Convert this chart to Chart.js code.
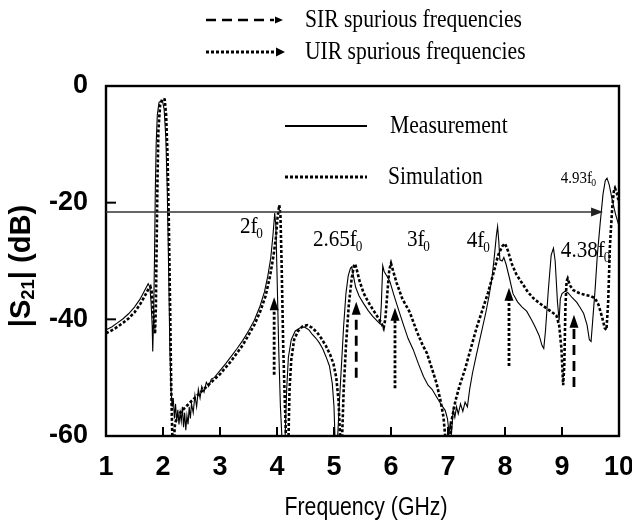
<!DOCTYPE html>
<html><head><meta charset="utf-8">
<style>html,body{margin:0;padding:0;background:#fff;}canvas{display:block;}</style>
<script src="https://cdn.jsdelivr.net/npm/chart.js@4"></script>
</head><body>
<canvas id="c" width="632" height="527"></canvas>
<script>
// ---- data ----
const xTicks = [1, 2, 3, 4, 5, 6, 7, 8, 9, 10];
const yTicks = [0, -20, -40, -60];

const measFreq = [1.00,1.10,1.20,1.30,1.40,1.50,1.60,1.68,1.74,1.77,1.79,1.81,1.82,1.835,1.85,1.865,1.88,1.90,1.93,1.96,1.99,2.02,2.05,2.075,2.10,2.12,2.14,2.16,2.18,2.20,2.22,2.24,2.26,2.28,2.30,2.32,2.34,2.36,2.38,2.40,2.42,2.44,2.46,2.48,2.50,2.53,2.56,2.59,2.62,2.65,2.68,2.72,2.76,2.80,2.85,2.90,3.00,3.10,3.20,3.30,3.40,3.50,3.60,3.70,3.78,3.84,3.89,3.93,3.96,3.98,4.00,4.03,4.06,4.09,4.14,4.17,4.20,4.25,4.32,4.40,4.48,4.56,4.62,4.68,4.74,4.80,4.86,4.92,4.97,5.00,5.02,5.06,5.09,5.13,5.17,5.21,5.25,5.29,5.31,5.34,5.38,5.44,5.52,5.60,5.68,5.76,5.81,5.83,5.855,5.88,5.93,5.98,6.05,6.13,6.22,6.30,6.39,6.48,6.57,6.65,6.72,6.80,6.88,6.95,6.99,7.02,7.04,7.06,7.09,7.12,7.15,7.18,7.22,7.26,7.30,7.34,7.38,7.43,7.50,7.58,7.66,7.72,7.77,7.81,7.85,7.87,7.89,7.91,7.95,7.98,8.02,8.08,8.14,8.22,8.30,8.38,8.46,8.53,8.60,8.65,8.68,8.71,8.76,8.81,8.85,8.88,8.92,8.95,8.97,9.00,9.05,9.10,9.18,9.26,9.32,9.38,9.44,9.48,9.51,9.54,9.58,9.62,9.67,9.72,9.76,9.79,9.83,9.88,9.94,10.0];
const measDb = [-41.8,-41.3,-40.6,-39.9,-39.0,-37.9,-36.5,-35.0,-33.9,-34.5,-37.0,-41.0,-45.5,-40.0,-30.0,-18.0,-10.0,-5.0,-2.8,-2.6,-2.5,-4.0,-9.0,-18.0,-32.0,-45.0,-52.0,-55.0,-53.5,-57.0,-54.5,-57.5,-55.5,-58.0,-56.0,-57.5,-55.0,-58.5,-56.0,-59.0,-56.5,-58.0,-55.0,-57.0,-54.5,-56.0,-53.0,-55.0,-52.0,-53.5,-51.5,-52.5,-50.8,-51.5,-50.2,-50.0,-48.8,-47.6,-46.3,-45.0,-43.6,-42.0,-40.2,-37.8,-35.3,-32.5,-29.5,-25.5,-21.8,-24.0,-32.0,-45.0,-55.0,-61,-61,-52,-46.5,-43.5,-42.0,-41.5,-41.3,-41.8,-42.6,-43.2,-44.0,-45.0,-46.4,-48.0,-51.0,-55.0,-61,-61,-55,-48,-41,-35.5,-32.5,-31.2,-31.0,-32.5,-34.5,-36.0,-37.3,-38.5,-39.5,-40.3,-40.8,-37.5,-30.8,-31.8,-32.6,-33.5,-35.8,-38.3,-41.0,-43.3,-45.2,-47.6,-49.8,-51.3,-52.0,-53.3,-54.6,-55.6,-57.0,-59.5,-57.5,-59.8,-55.5,-56.8,-55.0,-56.2,-54.5,-55.8,-54.2,-55.0,-52.0,-49.2,-46.0,-42.5,-39.0,-36.0,-33.0,-29.5,-25.5,-24.1,-26.5,-29.8,-30.0,-29.4,-30.6,-33.0,-35.6,-37.0,-37.9,-38.6,-40.0,-41.3,-42.8,-44.5,-45.0,-42.0,-35.0,-29.0,-27.8,-30.0,-37.0,-40.2,-36.5,-35.6,-35.2,-35.4,-36.3,-37.1,-38.0,-39.0,-41.0,-43.5,-43.8,-40.0,-35.0,-29.0,-23.5,-18.5,-16.2,-15.8,-17.0,-19.5,-22.0,-24.0];

const simFreq = [1.00,1.10,1.20,1.30,1.40,1.50,1.60,1.68,1.74,1.78,1.80,1.82,1.84,1.86,1.875,1.89,1.905,1.92,1.95,1.99,2.03,2.055,2.08,2.10,2.125,2.145,2.165,2.19,2.21,2.25,2.35,2.50,2.65,2.80,3.00,3.20,3.40,3.60,3.70,3.80,3.88,3.94,3.98,4.01,4.04,4.06,4.08,4.11,4.14,4.16,4.20,4.22,4.25,4.30,4.37,4.45,4.53,4.61,4.70,4.78,4.86,4.93,4.99,5.04,5.08,5.11,5.14,5.17,5.21,5.26,5.31,5.35,5.37,5.40,5.45,5.52,5.60,5.68,5.76,5.83,5.87,5.90,5.94,5.97,6.00,6.04,6.10,6.20,6.33,6.45,6.55,6.63,6.72,6.80,6.87,6.92,6.96,7.03,7.07,7.13,7.20,7.30,7.40,7.50,7.60,7.70,7.80,7.88,7.95,8.00,8.05,8.12,8.20,8.30,8.40,8.50,8.60,8.70,8.80,8.90,8.95,8.99,9.02,9.04,9.06,9.08,9.10,9.14,9.20,9.30,9.40,9.50,9.58,9.64,9.70,9.75,9.78,9.81,9.84,9.88,9.91,9.93,9.96,10.0];
const simDb = [-42.4,-41.9,-41.3,-40.6,-39.8,-38.8,-37.4,-36.0,-34.9,-34.4,-35.2,-37.5,-40.5,-42.5,-38.0,-26.0,-15.0,-7.5,-3.2,-2.2,-2.3,-5.0,-12.0,-22.0,-38.0,-52.0,-61,-61,-58.0,-56.5,-55.5,-54.0,-52.6,-51.2,-49.4,-47.1,-44.4,-41.0,-38.8,-36.0,-32.5,-29.0,-26.0,-22.5,-20.4,-22.0,-30.0,-45.0,-55.0,-61,-61,-52,-47,-43.5,-42.0,-41.2,-41.0,-41.4,-42.2,-43.3,-44.6,-46.0,-47.6,-50.0,-54.0,-61,-61,-52,-44.5,-37.5,-33.0,-30.8,-30.5,-31.5,-33.5,-35.5,-37.0,-38.3,-39.5,-40.6,-41.5,-40.0,-35.0,-31.5,-30.4,-31.8,-33.8,-36.5,-38.8,-42.0,-44.3,-45.8,-48.5,-51.0,-54.0,-56.7,-61,-61,-57.0,-54.0,-51.5,-48.5,-45.0,-41.5,-38.5,-35.5,-32.0,-29.0,-27.5,-27.0,-28.2,-30.5,-32.3,-33.8,-35.3,-36.4,-37.2,-37.9,-38.6,-39.3,-41.0,-45.0,-51.3,-48.0,-38.0,-33.5,-33.0,-34.2,-35.0,-35.5,-35.8,-36.0,-36.4,-37.5,-39.5,-41.5,-41.8,-37.0,-27.6,-21.0,-18.0,-17.5,-18.3,-20.0];

// spurious-frequency arrows (frequency, tail dB, head dB)
const uirArrowFreq = [3.95, 6.07, 8.07];
const uirArrowTail = [-49.5, -51.8, -48.0];
const uirArrowHead = [-36.2, -38.0, -34.6];
const sirArrowFreq = [5.39, 9.21];
const sirArrowTail = [-50.0, -51.6];
const sirArrowHead = [-37.0, -39.2];
// horizontal reference arrow
const refLevel = -21.6;
const refArrowEnd = 9.72;
// harmonic labels
const harmText = ['2', '2.65', '3', '4', '4.38', '4.93'];
const harmFreq = [3.35, 4.63, 6.28, 7.33, 8.98, 8.98];
const harmDb = [-24.2, -26.4, -26.4, -26.6, -28.3, -15.8];

// ---- chart ----
const SERIF = "'Liberation Serif','Times New Roman',serif";
const SANS = "'Liberation Sans',Arial,sans-serif";

function txt(ctx, str, x, y, font, sx, align) {
  ctx.save();
  ctx.font = font;
  ctx.textBaseline = 'middle';
  const w = ctx.measureText(str).width * sx;
  let dx = 0;
  if (align === 'center') dx = -w / 2;
  if (align === 'right') dx = -w;
  ctx.translate(x + dx, y);
  ctx.scale(sx, 1);
  ctx.textAlign = 'left';
  ctx.fillText(str, 0, 0);
  ctx.restore();
  return w;
}
function harm(ctx, base, x, y, size, sx) {
  const w = txt(ctx, base + 'f', x, y, size + 'px ' + SERIF, sx, 'left');
  txt(ctx, '0', x + w - size * 0.05, y + size * 0.28, Math.round(size * 0.62) + 'px ' + SERIF, sx, 'left');
}
function headUp(ctx, x, yTip, hw, len) {
  ctx.beginPath(); ctx.moveTo(x, yTip); ctx.lineTo(x - hw, yTip + len); ctx.lineTo(x + hw, yTip + len); ctx.closePath(); ctx.fill();
}
function headRight(ctx, xTip, y, hw, len) {
  ctx.beginPath(); ctx.moveTo(xTip, y); ctx.lineTo(xTip - len, y - hw); ctx.lineTo(xTip - len, y + hw); ctx.closePath(); ctx.fill();
}

const overlay = {
  id: 'overlay',
  afterDatasetsDraw(chart) {
    const { ctx, chartArea: a, scales: { x, y } } = chart;
    const X = v => x.getPixelForValue(v), Y = v => y.getPixelForValue(v);
    ctx.save();
    ctx.fillStyle = '#000'; ctx.strokeStyle = '#000';
    // frame
    ctx.setLineDash([]); ctx.lineWidth = 2.4;
    ctx.strokeRect(a.left, a.top, a.right - a.left, a.bottom - a.top);
    // inward ticks
    ctx.lineWidth = 2;
    xTicks.forEach(v => { if (v > xTicks[0] && v < xTicks[xTicks.length - 1]) { ctx.beginPath(); ctx.moveTo(X(v), a.bottom); ctx.lineTo(X(v), a.bottom - 9); ctx.stroke(); } });
    yTicks.forEach(v => { if (v < 0 && v > -60) { ctx.beginPath(); ctx.moveTo(a.left, Y(v)); ctx.lineTo(a.left + 10, Y(v)); ctx.stroke(); } });
    // horizontal reference arrow
    ctx.strokeStyle = '#333'; ctx.fillStyle = '#222'; ctx.lineWidth = 1.3;
    ctx.beginPath(); ctx.moveTo(a.left, Y(refLevel)); ctx.lineTo(X(refArrowEnd) - 10, Y(refLevel)); ctx.stroke();
    headRight(ctx, X(refArrowEnd), Y(refLevel), 4.5, 12);
    ctx.strokeStyle = '#000'; ctx.fillStyle = '#000';
    // vertical arrows
    ctx.lineWidth = 2.8; ctx.lineCap = 'butt';
    uirArrowFreq.forEach((f, i) => {
      ctx.setLineDash([3, 2]);
      ctx.beginPath(); ctx.moveTo(X(f), Y(uirArrowTail[i])); ctx.lineTo(X(f), Y(uirArrowHead[i]) + 12); ctx.stroke();
      ctx.setLineDash([]); headUp(ctx, X(f), Y(uirArrowHead[i]), 4.5, 13);
    });
    sirArrowFreq.forEach((f, i) => {
      ctx.setLineDash([10, 6]);
      ctx.beginPath(); ctx.moveTo(X(f), Y(sirArrowTail[i])); ctx.lineTo(X(f), Y(sirArrowHead[i]) + 12); ctx.stroke();
      ctx.setLineDash([]); headUp(ctx, X(f), Y(sirArrowHead[i]), 4.5, 13);
    });
    // harmonic labels
    harmText.forEach((t, i) => {
      const size = (t === '4.93') ? 17 : 24;
      harm(ctx, t, X(harmFreq[i]), Y(harmDb[i]), size, 0.88);
    });
    // inner legend
    ctx.lineWidth = 2; ctx.setLineDash([]);
    ctx.beginPath(); ctx.moveTo(285, 126); ctx.lineTo(367, 126); ctx.stroke();
    ctx.lineWidth = 3; ctx.setLineDash([3, 2]);
    ctx.beginPath(); ctx.moveTo(285, 177); ctx.lineTo(367, 177); ctx.stroke();
    ctx.setLineDash([]);
    txt(ctx, 'Measurement', 390, 126, '25px ' + SERIF, 0.865, 'left');
    txt(ctx, 'Simulation', 388, 177, '25px ' + SERIF, 0.865, 'left');
    // top legend
    ctx.lineWidth = 2.4; ctx.setLineDash([10, 6]);
    ctx.beginPath(); ctx.moveTo(206, 20); ctx.lineTo(274, 20); ctx.stroke();
    ctx.setLineDash([]); headRight(ctx, 283, 20, 3.5, 8);
    ctx.lineWidth = 3; ctx.setLineDash([3, 2]);
    ctx.beginPath(); ctx.moveTo(206, 52); ctx.lineTo(276, 52); ctx.stroke();
    ctx.setLineDash([]); headRight(ctx, 285, 52, 4.5, 9);
    txt(ctx, 'SIR spurious frequencies', 305, 20, '26px ' + SERIF, 0.83, 'left');
    txt(ctx, 'UIR spurious frequencies', 305, 52, '26px ' + SERIF, 0.83, 'left');
    // axis titles
    txt(ctx, 'Frequency (GHz)', 366, 508, '25px ' + SANS, 0.85, 'center');
    ctx.save();
    ctx.translate(22, 266); ctx.rotate(-Math.PI / 2);
    const f1 = 'bold 30px ' + SANS, f2 = 'bold 19px ' + SANS;
    const sxl = 0.97;
    ctx.font = f1; const w1 = ctx.measureText('|S').width * sxl;
    ctx.font = f2; const w2 = ctx.measureText('21').width * sxl;
    ctx.font = f1; const w3 = ctx.measureText('| (dB)').width * sxl;
    let sx0 = -(w1 + w2 + w3) / 2;
    txt(ctx, '|S', sx0, 0, f1, sxl, 'left');
    txt(ctx, '21', sx0 + w1, 7, f2, sxl, 'left');
    txt(ctx, '| (dB)', sx0 + w1 + w2, 0, f1, sxl, 'left');
    ctx.restore();
    ctx.restore();
  }
};

const tickFont = { family: "'Liberation Sans Narrow','Arial Narrow'," + SANS, size: 27, weight: 'bold' };

new Chart(document.getElementById('c'), {
  type: 'line',
  data: {
    datasets: [
      { label: 'Measurement', data: measFreq.map((f, i) => ({ x: f, y: measDb[i] })), borderColor: '#000', borderWidth: 1.1, pointRadius: 0, tension: 0, clip: 0 },
      { label: 'Simulation', data: simFreq.map((f, i) => ({ x: f, y: simDb[i] })), borderColor: '#000', borderWidth: 2.6, borderDash: [3, 2], pointRadius: 0, tension: 0, clip: 0 }
    ]
  },
  options: {
    responsive: false, animation: false,
    layout: { padding: { top: 86, right: 13, left: 0, bottom: 0 } },
    plugins: { legend: { display: false }, tooltip: { enabled: false } },
    scales: {
      x: {
        type: 'linear', min: 1, max: 10,
        ticks: { stepSize: 1, font: tickFont, color: '#000', padding: 15, maxRotation: 0, autoSkip: false },
        grid: { display: false, drawTicks: false },
        border: { display: false },
        afterFit(s) { s.height = 91; s.paddingLeft = 0; s.paddingRight = 0; }
      },
      y: {
        min: -60, max: 0,
        ticks: { stepSize: 20, font: tickFont, color: '#000', padding: 18 },
        grid: { display: false, drawTicks: false },
        border: { display: false },
        afterFit(s) { s.width = 106; s.paddingTop = 0; s.paddingBottom = 0; }
      }
    }
  },
  plugins: [overlay]
});
</script>
</body></html>
